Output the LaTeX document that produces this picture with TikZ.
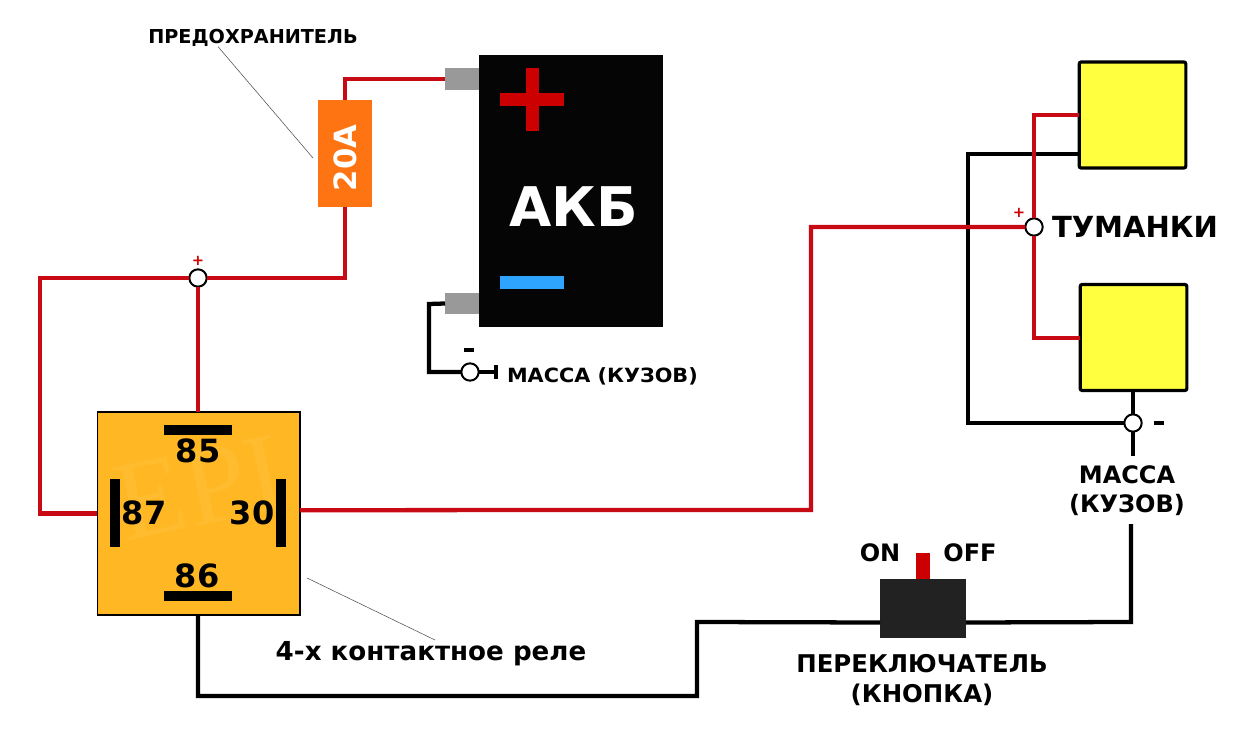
\documentclass[tikz,border=0pt]{standalone}
\usepackage{fontspec}
\setmainfont{DejaVu Sans}
\newfontfamily\wmfont{Liberation Serif}
\newfontfamily\widefont{DejaVu Sans}[FakeStretch=1.06]
\newcommand{\fz}[1]{\fontsize{#1}{#1}\selectfont\bfseries}
\newcommand{\fzz}[2]{\fontsize{#1}{#2}\selectfont\bfseries}
\newcommand{\fw}[2]{\widefont\fontsize{#1}{#2}\selectfont\bfseries}
\definecolor{wirered}{HTML}{C80A14}
\definecolor{relayorange}{HTML}{FFB824}
\definecolor{wmorange}{HTML}{FFBC2E}
\definecolor{fuseorange}{HTML}{FF7412}
\definecolor{lampyellow}{HTML}{FFFF40}
\definecolor{termgrey}{HTML}{999999}
\definecolor{minusblue}{HTML}{2FA4FF}
\definecolor{plusred}{HTML}{CC0000}
\definecolor{switchdark}{HTML}{222222}
\definecolor{arcblue}{HTML}{0A1A26}
\tikzset{
  x=0.75pt,y=-0.75pt,
  box/.style={rectangle,inner sep=0pt,outer sep=0pt,draw=none},
  wirer/.style={draw=wirered,line width=3.2pt,line join=miter},
  wireb/.style={draw=black,line width=3.2pt,line join=miter},
  leader/.style={draw=black!70,line width=0.4pt},
  joint/.style={circle,draw=black,fill=white,line width=1.5pt,minimum size=13pt,inner sep=0pt,outer sep=0pt},
  lamp/.style={box,fill=lampyellow,draw=black,line width=2.4pt,rounded corners=1.5pt,minimum width=80pt,minimum height=79.5pt},
  pinbar/.style={box,fill=black},
  lab/.style={inner sep=0pt,outer sep=0pt,text=black,align=center},
}
\begin{document}
\begin{tikzpicture}
\useasboundingbox (0,0) rectangle (1234,730);
% battery
\node[box,fill=black!98,minimum width=138pt,minimum height=204pt] (bat) at (571,191) {};
\begin{scope}
\clip (479,55) rectangle (663,327);
\draw[arcblue,line width=1.2pt] (622,330) arc[start angle=180,end angle=90,x radius=42pt,y radius=-24pt];
\end{scope}
\node[box,fill=plusred,minimum width=48pt,minimum height=9.75pt] (plusH) at (532,99.5) {};
\node[box,fill=plusred,minimum width=9.75pt,minimum height=47.25pt] (plusV) at (532.5,99.5) {};
\node[box,fill=minusblue,minimum width=48pt,minimum height=9.75pt] (minusB) at (532,282.5) {};
\node[lab,text=white] (akb) at (574,207) {\fz{41}АКБ};
\node[box,fill=termgrey,minimum width=25.5pt,minimum height=16.5pt] (termP) at (462,79) {};
\node[box,fill=termgrey,minimum width=25.5pt,minimum height=15.75pt] (termN) at (462,303.5) {};
% fuse
\node[box,fill=fuseorange,minimum width=40.5pt,minimum height=80.25pt] (fuse) at (345,153.5) {};
\node[lab,text=white,rotate=90] (fuseT) at (345,158) {\fz{23}20A};
% relay
\node[box,fill=relayorange,draw=black,line width=1pt,minimum width=152pt,minimum height=152pt] (relay) at (198.5,513.5) {};
\begin{scope}
\clip (98,413) rectangle (299,614);
\node[lab,text=wmorange,rotate=12] (wm) at (200,488) {\wmfont\fontsize{85}{85}\selectfont EPI};
\end{scope}
\node[pinbar,minimum width=51pt,minimum height=7.5pt] (bar85) at (198,430) {};
\node[pinbar,minimum width=7.5pt,minimum height=51pt] (bar87) at (115,513) {};
\node[pinbar,minimum width=7.5pt,minimum height=51pt] (bar30) at (281,513) {};
\node[pinbar,minimum width=51pt,minimum height=7.5pt] (bar86) at (198,596) {};
\node[lab] (t85) at (198,451) {\fz{24}85};
\node[lab] (t87) at (144,513) {\fz{24}87};
\node[lab] (t30) at (252,513) {\fz{24}30};
\node[lab] (t86) at (197,576) {\fz{24}86};
% lamps
\node[lamp] (lamp1) at (1132.5,115) {};
\node[lamp] (lamp2) at (1133.5,337.5) {};
% switch
\node[box,fill=switchdark,minimum width=64.5pt,minimum height=44.25pt] (sw) at (923,608.5) {};
\node[box,fill=plusred,minimum width=10.5pt,minimum height=19.5pt] (lever) at (923,566) {};
% joints
\node[joint] (jA) at (198,278) {};
\node[joint] (jB) at (1034,227) {};
\node[joint] (jC) at (1133,423) {};
\node[joint] (jD) at (470,372) {};
% free ends and bends
\coordinate (bA) at (40,278);
\coordinate (bB) at (811,510);
\coordinate (bC) at (1034,115);
\coordinate (bD) at (1034,338);
\coordinate (bE) at (968,154);
\coordinate (bF) at (968,423);
\coordinate (endC) at (1133,456);
\coordinate (bG) at (429,304);
\coordinate (bH) at (429,372);
\coordinate (endD) at (496,372);
\coordinate (startK) at (1131,524);
\coordinate (bI) at (1131,622);
\coordinate (bJ) at (697,622);
\coordinate (bK) at (697,696);
\coordinate (bL) at (198,696);
% black wires
\draw[wireb] ([yshift=-29.25pt]lamp1.west) -- (bE) -- (bF) -- (jC.west);
\draw[wireb] (lamp2.south -| jC.north) -- (jC.north);
\draw[wireb] (jC.south) -- (endC);
\draw[wireb] (termN.west) -- (bG) -- (bH) -- (jD.west);
\draw[wireb] (jD.east) -- (endD);
\node[pinbar,minimum width=3.5pt,minimum height=10.5pt] (capD) at (496,372) {};
\draw[wireb] (startK) -- (bI) -- ([yshift=-10.5pt]sw.east);
\draw[wireb] ([yshift=-10.5pt]sw.west) -- (bJ) -- (bK) -- (bL) -- (relay.south -| bL);
% red wires
\draw[wirer] (termP.west) -| (fuse.north);
\draw[wirer] (fuse.south) |- (jA.east);
\draw[wirer] (jA.west) -- (bA) |- (relay.west);
\draw[wirer] (jA.south) -- (relay.north -| jA.south);
\draw[wirer] ([yshift=2.5pt]relay.east) -- (bB) |- (jB.west);
\draw[wirer] (jB.north) -- (bC) -- (lamp1.west);
\draw[wirer] (jB.south) -- (bD) -- (lamp2.west |- bD);
% leaders
\node[lab] (tFuse) at (253,38) {\fz{14.4}ПРЕДОХРАНИТЕЛЬ};
\draw[leader] (tFuse.south -| 218,0) -- (313,158);
\node[lab] (tRelay) at (431,654) {\fz{19.6}4-х контактное реле};
\draw[leader] (307,578) -- (435,640);
% labels
\node[lab,text=plusred] (pA) at (198,261) {\fz{11}+};
\node[lab,text=plusred] (pB) at (1019,213) {\fz{11}+};
\node[box,fill=black,minimum width=8pt,minimum height=3pt] (mC) at (1159,423) {};
\node[box,fill=black,minimum width=8pt,minimum height=3pt] (mD) at (469,350) {};
\node[lab,anchor=west] (tBody) at (507,376) {\fw{14.7}{15}МАССА (КУЗОВ)};
\node[lab,anchor=west] (tFog) at (1052,227) {\fz{21.8}ТУМАНКИ};
\node[lab,font=\fzz{18}{21.75}] (tBody2) at (1127,490.5) {МАССА\\(КУЗОВ)};
\node[lab] (tOn) at (880,553) {\fz{18}ON};
\node[lab] (tOff) at (970,553) {\fz{18}OFF};
\node[lab,font=\fzz{18.3}{22.5}] (tSw) at (922,680) {ПЕРЕКЛЮЧАТЕЛЬ\\(КНОПКА)};
\end{tikzpicture}
\end{document}
